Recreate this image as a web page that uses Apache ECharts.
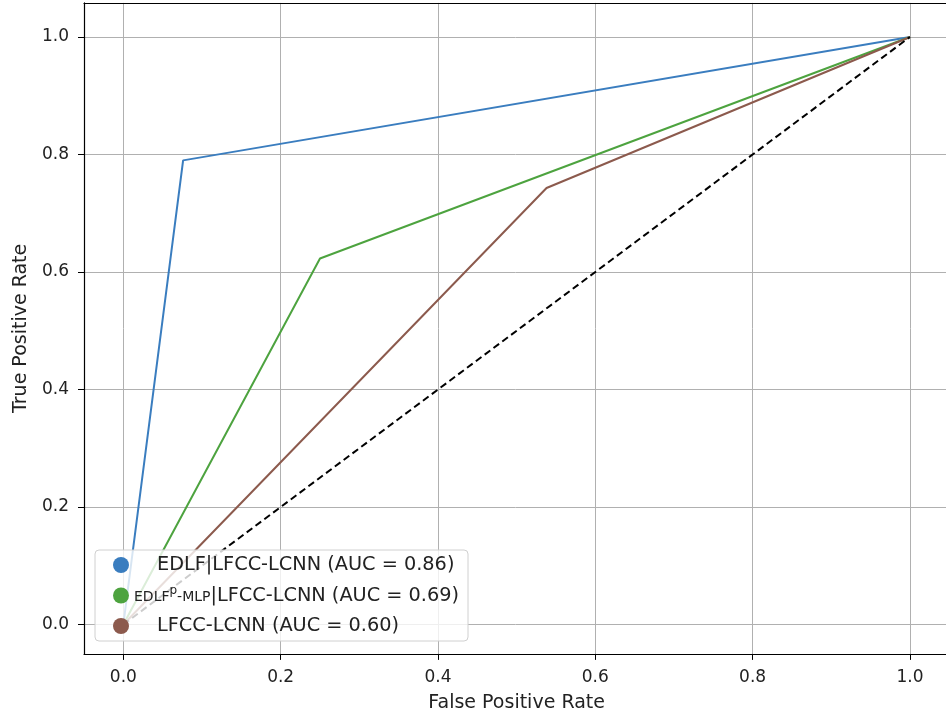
<!DOCTYPE html>
<html>
<head>
<meta charset="utf-8">
<script src="https://cdn.jsdelivr.net/npm/echarts@6/dist/echarts.min.js"></script>
<style>
  html, body { margin: 0; padding: 0; background: #fff; }
  #rocChart { width: 946px; height: 713px; }
</style>
</head>
<body>
<div id="rocChart"></div>
<script>
// ROC points
const seriesNames = [
    "EDLF|LFCC-LCNN (AUC = 0.86)",
    "EDLFp-MLP|LFCC-LCNN (AUC = 0.69)",
    "LFCC-LCNN (AUC = 0.60)"
];
const edlfFpr = [0, 0.076, 1];
const edlfTpr = [0, 0.79, 1];
const mlpFpr = [0, 0.25, 1];
const mlpTpr = [0, 0.623, 1];
const lcnnFpr = [0, 0.538, 1];
const lcnnTpr = [0, 0.743, 1];
const chanceFpr = [0, 1];
const chanceTpr = [0, 1];
const tickValues = [0, 0.2, 0.4, 0.6, 0.8, 1.0];

const colors = ['#3a7dbf', '#4da33f', '#8c5a4d'];

const pairs = (xs, ys) => xs.map((x, i) => [x, ys[i]]);

const axisCommon = {
    type: 'value',
    axisLine: { show: true, onZero: false, lineStyle: { color: '#000', width: 1.2 } },
    axisTick: { show: true, inside: false, length: 6, customValues: tickValues, lineStyle: { color: '#000' } },
    axisLabel: {
        customValues: tickValues,
        formatter: v => v.toFixed(1),
        color: '#222',
        fontSize: 17,
        fontFamily: 'DejaVu Sans',
        margin: 15
    },
    splitLine: { show: true, lineStyle: { color: '#b0b0b0', width: 1 } },
    nameLocation: 'middle',
    nameTextStyle: { color: '#222', fontSize: 19, fontFamily: 'DejaVu Sans' }
};

const lineSeries = (name, xs, ys, color) => ({
    name: name,
    type: 'line',
    data: pairs(xs, ys),
    showSymbol: false,
    symbol: 'circle',
    itemStyle: { color: color },
    lineStyle: { color: color, width: 2 },
    animation: false
});

const option = {
    backgroundColor: '#fff',
    animation: false,
    grid: {
        left: 84,
        top: 2.9,
        right: -3.3,
        bottom: 59.1,
        outerBoundsMode: 'none',
        containLabel: false,
        show: false
    },
    xAxis: [
        Object.assign({}, axisCommon, { min: -0.05, max: 1.05, name: 'False Positive Rate', nameGap: 40 }),
        // top spine only
        {
            type: 'value', position: 'top', min: -0.05, max: 1.05,
            axisLine: { show: true, onZero: false, lineStyle: { color: '#000', width: 1.2 } },
            axisTick: { show: false }, axisLabel: { show: false }, splitLine: { show: false }
        }
    ],
    yAxis: Object.assign({}, axisCommon, { min: -0.05, max: 1.058, name: 'True Positive Rate', nameGap: 53 }),
    legend: {
        orient: 'vertical',
        left: 95,
        top: 550,
        icon: 'circle',
        itemWidth: 16,
        itemHeight: 16,
        itemGap: 8.5,
        padding: [4, 9, 4, 18],
        backgroundColor: 'rgba(255,255,255,0.8)',
        borderColor: '#d0d0d0',
        borderWidth: 1,
        borderRadius: 4,
        data: seriesNames,
        formatter: name => {
            if (name === seriesNames[1]) {
                return '{s|EDLF}{sup|p}{s|-MLP}{n||LFCC-LCNN (AUC = 0.69)}';
            }
            return '{pad|}{n|' + name + '}';
        },
        textStyle: {
            fontFamily: 'DejaVu Sans',
            height: 22,
            lineHeight: 22,
            rich: {
                pad: { width: 23, lineHeight: 22 },
                n: { fontSize: 19.3, lineHeight: 22, color: '#222', fontFamily: 'DejaVu Sans' },
                s: { fontSize: 14, lineHeight: 14, color: '#222', fontFamily: 'DejaVu Sans', verticalAlign: 'bottom', padding: [0, 0, 2, 0] },
                sup: { fontSize: 12, lineHeight: 14, color: '#222', fontFamily: 'DejaVu Sans', verticalAlign: 'top' }
            }
        }
    },
    series: [
        lineSeries(seriesNames[0], edlfFpr, edlfTpr, colors[0]),
        lineSeries(seriesNames[1], mlpFpr, mlpTpr, colors[1]),
        lineSeries(seriesNames[2], lcnnFpr, lcnnTpr, colors[2]),
        {
            name: 'chance',
            type: 'line',
            data: pairs(chanceFpr, chanceTpr),
            showSymbol: false,
            lineStyle: { color: '#000', width: 2, type: [7, 4] },
            animation: false
        }
    ]
};

const chart = echarts.init(document.getElementById('rocChart'));
chart.setOption(option);
</script>
</body>
</html>
